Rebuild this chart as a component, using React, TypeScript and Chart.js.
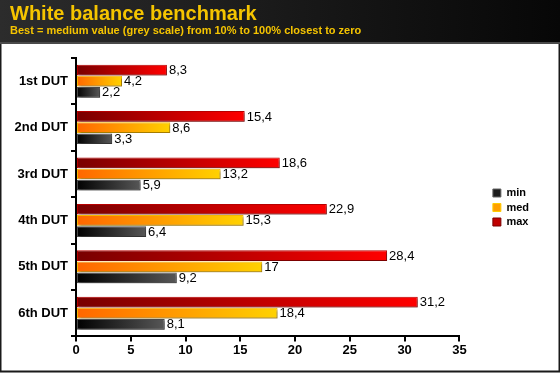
import React, { useEffect, useRef } from 'react';
import { Chart, registerables } from 'chart.js';

Chart.register(...registerables);

const categories = ['1st DUT', '2nd DUT', '3rd DUT', '4th DUT', '5th DUT', '6th DUT'];
const maxValues = [8.3, 15.4, 18.6, 22.9, 28.4, 31.2];
const medValues = [4.2, 8.6, 13.2, 15.3, 17, 18.4];
const minValues = [2.2, 3.3, 5.9, 6.4, 9.2, 8.1];
const xMin = 0;
const xMax = 35;
const xStep = 5;
const titleText = 'White balance benchmark';
const subtitleText = 'Best = medium value (grey scale) from 10% to 100% closest to zero';

const FONT = "'Liberation Sans', Arial, Helvetica, sans-serif";

const grad = (from: string, to: string, fallback: string) => (c: any) => {
  const chart = c.chart;
  if (c.type !== 'data' || !chart.chartArea || !chart.scales.x) return fallback;
  const xs = chart.scales.x;
  const x0 = xs.getPixelForValue(0);
  const x1 = xs.getPixelForValue(c.raw);
  if (!isFinite(x0) || !isFinite(x1) || x1 <= x0) return fallback;
  const g = chart.ctx.createLinearGradient(x0, 0, x1, 0);
  g.addColorStop(0, from);
  g.addColorStop(1, to);
  return g;
};

const framePlugin = {
  id: 'frame',
  beforeDraw(chart: any) {
    const { ctx, width, height } = chart;
    ctx.save();
    ctx.fillStyle = '#ffffff';
    ctx.fillRect(0, 0, width, height);
    const g = ctx.createLinearGradient(0, 0, width, 0);
    g.addColorStop(0, '#2c2c2c');
    g.addColorStop(1, '#070707');
    ctx.fillStyle = g;
    ctx.fillRect(0, 0, width, 42);
    ctx.fillStyle = '#4a4a4a';
    ctx.fillRect(0, 42, width, 2);
    ctx.fillStyle = '#1a1a1a';
    ctx.fillRect(0, 44, 1.5, height - 44);
    ctx.fillRect(width - 1.5, 44, 1.5, height - 44);
    ctx.fillRect(0, height - 2.5, width, 1.5);
    ctx.fillStyle = '#888888';
    ctx.fillRect(0, height - 1, width, 1);
    ctx.restore();
  },
};

const barDecorPlugin = {
  id: 'barDecor',
  beforeDatasetsDraw(chart: any) {
    const ctx = chart.ctx;
    ctx.save();
    ctx.shadowColor = 'rgba(0,0,0,0.35)';
    ctx.shadowOffsetX = 2;
    ctx.shadowOffsetY = 2;
    ctx.shadowBlur = 2;
  },
  afterDatasetsDraw(chart: any) {
    const ctx = chart.ctx;
    ctx.restore();
    ctx.save();
    ctx.font = `13px ${FONT}`;
    ctx.fillStyle = '#000000';
    ctx.textAlign = 'left';
    ctx.textBaseline = 'middle';
    chart.data.datasets.forEach((ds: any, di: number) => {
      const meta = chart.getDatasetMeta(di);
      if (meta.hidden) return;
      meta.data.forEach((el: any, i: number) => {
        const v = ds.data[i];
        ctx.fillText(String(v).replace('.', ','), el.x + 2, el.y + 0.5);
      });
    });
    ctx.restore();
  },
};

const legendColors: Record<string, { fill: string; stroke: string }> = {
  max: { fill: '#c00000', stroke: '#7a0000' },
  med: { fill: '#ffa000', stroke: '#ffcc00' },
  min: { fill: '#1c1c1c', stroke: '#666666' },
};

export default function App() {
  const ref = useRef<HTMLCanvasElement | null>(null);

  useEffect(() => {
    document.body.style.margin = '0';
    const canvas = ref.current;
    if (!canvas) return;
    const chart = new Chart(canvas, {
      type: 'bar',
      data: {
        labels: categories,
        datasets: [
          {
            label: 'max',
            data: maxValues,
            backgroundColor: grad('#780000', '#ff0000', '#cc0000'),
            borderColor: '#b80000',
            borderWidth: 1,
            borderSkipped: false,
          },
          {
            label: 'med',
            data: medValues,
            backgroundColor: grad('#ff6600', '#ffd200', '#ffa000'),
            borderColor: '#f5b800',
            borderWidth: 1,
            borderSkipped: false,
          },
          {
            label: 'min',
            data: minValues,
            backgroundColor: grad('#000000', '#575757', '#222222'),
            borderColor: '#4a4a4a',
            borderWidth: 1,
            borderSkipped: false,
          },
        ],
      },
      options: {
        indexAxis: 'y',
        responsive: false,
        animation: false,
        datasets: {
          bar: {
            categoryPercentage: 0.72,
            barPercentage: 0.96,
          },
        },
        layout: {
          padding: { left: 10, right: 21, top: 0, bottom: 14 },
        },
        scales: {
          x: {
            type: 'linear',
            min: xMin,
            max: xMax,
            ticks: {
              stepSize: xStep,
              color: '#000000',
              font: { family: FONT, size: 13, weight: 'bold' },
              padding: 1,
            },
            grid: {
              display: true,
              drawOnChartArea: false,
              drawTicks: true,
              tickLength: 5,
              color: '#000000',
              lineWidth: 2,
            },
            border: { display: true, color: '#000000', width: 2 },
          },
          y: {
            type: 'category',
            ticks: {
              color: '#000000',
              font: { family: FONT, size: 13, weight: 'bold' },
              padding: 3,
            },
            grid: {
              display: true,
              drawOnChartArea: false,
              drawTicks: true,
              tickLength: 5,
              color: '#000000',
              lineWidth: 2,
              offset: true,
            },
            border: { display: true, color: '#000000', width: 2 },
            afterFit: (s: any) => {
              s.width = 66;
            },
          },
          yGap: {
            type: 'category',
            position: 'right',
            labels: categories,
            display: true,
            ticks: { display: false },
            grid: { display: false, drawTicks: false },
            border: { display: false },
            afterFit: (s: any) => {
              s.width = 30;
            },
          },
        },
        plugins: {
          title: {
            display: true,
            text: titleText,
            align: 'start',
            color: '#f5c400',
            font: { family: FONT, size: 20, weight: 'bold', lineHeight: 1 },
            padding: { top: 4.5, bottom: 0 },
          },
          subtitle: {
            display: true,
            text: subtitleText,
            align: 'start',
            color: '#f5c400',
            font: { family: FONT, size: 11, weight: 'bold', lineHeight: 1.2 },
            padding: { top: 0, bottom: 20.3 },
          },
          legend: {
            display: true,
            position: 'right',
            reverse: true,
            title: {
              display: true,
              text: ' ',
              font: { family: FONT, size: 10, lineHeight: 1 },
              padding: { top: 46, bottom: 0 },
            },
            labels: {
              boxWidth: 8,
              boxHeight: 8,
              padding: 3.5,
              color: '#000000',
              font: { family: FONT, size: 11, weight: 'bold' },
              generateLabels: (chart: any) =>
                chart.data.datasets.map((ds: any, i: number) => ({
                  text: ds.label,
                  fillStyle: legendColors[ds.label].fill,
                  strokeStyle: legendColors[ds.label].stroke,
                  lineWidth: 1,
                  hidden: !chart.isDatasetVisible(i),
                  datasetIndex: i,
                  fontColor: '#000000',
                })),
            },
          },
          tooltip: { enabled: false },
        },
      },
      plugins: [framePlugin, barDecorPlugin],
    } as any);
    return () => chart.destroy();
  }, []);

  return (
    <div style={{ width: 560, height: 373 }}>
      <canvas ref={ref} width={560} height={373} style={{ display: 'block' }} />
    </div>
  );
}
